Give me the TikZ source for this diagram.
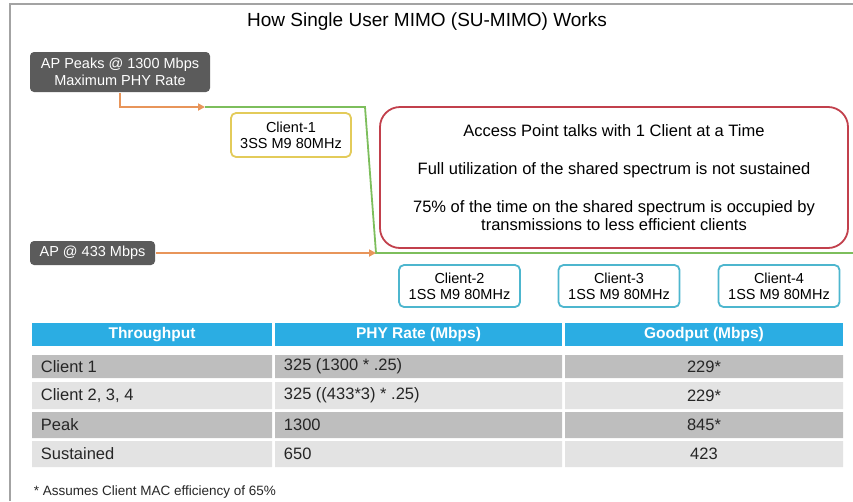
\documentclass[tikz,border=0pt]{standalone}
\usepackage{fontspec}
\setmainfont{Liberation Sans}
\usetikzlibrary{arrows.meta}

\definecolor{darkbox}{HTML}{5B5B5B}
\definecolor{linkorange}{HTML}{E8955A}
\definecolor{linkgreen}{HTML}{7DBE5C}
\definecolor{clientyellow}{HTML}{E3CB5A}
\definecolor{msgred}{HTML}{C2404C}
\definecolor{clientcyan}{HTML}{4DB6CE}
\definecolor{headcyan}{HTML}{2BADE3}
\definecolor{rowdark}{HTML}{BEBEBE}
\definecolor{rowlight}{HTML}{E3E3E3}
\definecolor{framegray}{HTML}{A3A3A3}

\begin{document}
\begin{tikzpicture}[x=1pt, y=-1pt, line width=1.8pt,
    ap node/.style={rectangle, rounded corners=4pt, fill=darkbox, text=white, align=center, inner sep=0pt, font=\fontsize{14.5}{17}\selectfont},
    client node/.style={rectangle, rounded corners=5pt, draw, fill=white, align=center, inner sep=0pt, minimum width=121pt, minimum height=42pt, font=\fontsize{14.5}{16}\selectfont},
    head cell/.style={rectangle, fill=headcyan, text=white, inner sep=0pt, minimum height=23pt, font=\bfseries\fontsize{15.5}{17}\selectfont},
    row cell/.style={rectangle, inner sep=8pt, text=black!85, font=\fontsize{16.5}{18}\selectfont},
    link/.style={linkorange, -{Triangle[length=7pt,width=7pt]}}]

    \useasboundingbox (0,0) rectangle (853,501);

    % frame and title
    \draw[framegray, line width=1.5pt] (10,501) -- (10,4) -- (853,4);
    \node[font=\fontsize{19}{22}\selectfont] (title) at (427,22) {How Single User MIMO (SU-MIMO) Works};

    % access point boxes
    \node[ap node, minimum width=180pt, minimum height=40pt] (peak) at (120,72) {AP Peaks @ 1300 Mbps\\Maximum PHY Rate};
    \node[ap node, minimum width=125pt, minimum height=24pt] (ap433) at (92.5,253) {AP @ 433 Mbps};

    % clients
    \node[client node, draw=clientyellow, minimum width=120pt, minimum height=44pt] (c1) at (291,135) {Client-1\\3SS M9 80MHz};
    \node[client node, draw=clientcyan] (c2) at (459.5,286) {Client-2\\1SS M9 80MHz};
    \node[client node, draw=clientcyan] (c3) at (619,286) {Client-3\\1SS M9 80MHz};
    \node[client node, draw=clientcyan] (c4) at (779,286) {Client-4\\1SS M9 80MHz};

    % message box
    \node[rectangle, rounded corners=20pt, draw=msgred, fill=white, minimum width=468pt, minimum height=141pt, align=center, font=\fontsize{16.5}{18}\selectfont] (msg) at (614,177.5)
        {Access Point talks with 1 Client at a Time\\[20pt]Full utilization of the shared spectrum is not sustained\\[20pt]75\% of the time on the shared spectrum is occupied by\\transmissions to less efficient clients};

    % air time path
    \coordinate (j1) at (205,107);
    \coordinate (k1) at (365,107);
    \coordinate (j2) at (376,253);
    \coordinate (k2) at (853,253);
    \draw[linkgreen] (j1) -- (k1) -- (j2) -- (k2);
    \draw[link] (peak.south) |- (j1);
    \draw[link] (ap433.east) -- (j2);

    % table header
    \node[head cell, minimum width=240pt] (h1) at (152,334.5) {Throughput};
    \node[head cell, minimum width=287pt] (h2) at (418.5,334.5) {PHY Rate (Mbps)};
    \node[head cell, minimum width=278pt] (h3) at (704,334.5) {Goodput (Mbps)};

    % table rows
    \fill[rowdark] (32,355) rectangle (272,378) (275,355) rectangle (562,378) (565,355) rectangle (843,378);
    \fill[rowlight] (32,382) rectangle (272,409) (275,382) rectangle (562,409) (565,382) rectangle (843,409);
    \fill[rowdark] (32,412) rectangle (272,438) (275,412) rectangle (562,438) (565,412) rectangle (843,438);
    \fill[rowlight] (32,441) rectangle (272,467) (275,441) rectangle (562,467) (565,441) rectangle (843,467);

    \node[row cell, anchor=west] (r1a) at (32,366.5) {Client 1};
    \node[row cell, anchor=west] (r1b) at (275,366.5) {325 (1300 * .25)};
    \node[row cell] (r1c) at (704,366.5) {229*};
    \node[row cell, anchor=west] (r2a) at (32,395.5) {Client 2, 3, 4};
    \node[row cell, anchor=west] (r2b) at (275,395.5) {325 ((433*3) * .25)};
    \node[row cell] (r2c) at (704,395.5) {229*};
    \node[row cell, anchor=west] (r3a) at (32,425) {Peak};
    \node[row cell, anchor=west] (r3b) at (275,425) {1300};
    \node[row cell] (r3c) at (704,425) {845*};
    \node[row cell, anchor=west] (r4a) at (32,454) {Sustained};
    \node[row cell, anchor=west] (r4b) at (275,454) {650};
    \node[row cell] (r4c) at (704,454) {423};

    % footnote
    \node[anchor=west, inner sep=0pt, text=black!85, font=\fontsize{13.5}{15}\selectfont] (note) at (33,492) {* Assumes Client MAC efficiency of 65\%};

\end{tikzpicture}
\end{document}
